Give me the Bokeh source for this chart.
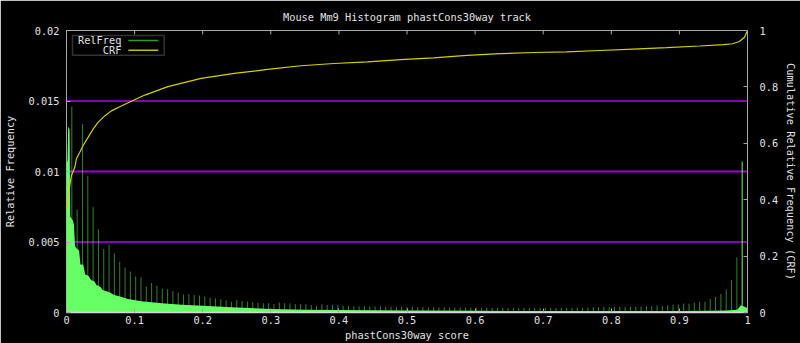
from bokeh.plotting import figure
from bokeh.models import Range1d, LinearAxis, FixedTicker, BoxAnnotation, Label, Span
from bokeh.embed import file_html
from bokeh.resources import INLINE

# ---------------- data ----------------
title_text = "Mouse Mm9 Histogram phastCons30way track"
score_ticks = [0, 0.1, 0.2, 0.3, 0.4, 0.5, 0.6, 0.7, 0.8, 0.9, 1]
score_labels = ["0", "0.1", "0.2", "0.3", "0.4", "0.5", "0.6", "0.7", "0.8", "0.9", "1"]
relfreq_ticks = [0, 0.005, 0.01, 0.015, 0.02]
relfreq_labels = ["0", "0.005", "0.01", "0.015", "0.02"]
crf_ticks = [0, 0.2, 0.4, 0.6, 0.8, 1]
crf_labels = ["0", "0.2", "0.4", "0.6", "0.8", "1"]
grid_levels = [0.005, 0.01, 0.015]

# histogram background (dense bins) envelope
base_score = [0.0, 0.0015, 0.0025, 0.0045, 0.0055, 0.0095, 0.011, 0.0125, 0.0155, 0.0185,
              0.0205, 0.0245, 0.0275, 0.032, 0.036, 0.041, 0.044, 0.05, 0.053, 0.063,
              0.07, 0.08, 0.09, 0.11, 0.14, 0.17, 0.2, 0.25, 0.3, 0.35,
              0.4, 0.5, 0.6, 0.7, 0.8, 0.9, 0.95, 0.97, 0.985, 0.99, 0.996, 1.0]
base_freq = [0.0105, 0.0108, 0.0132, 0.013, 0.0068, 0.0065, 0.0062, 0.0047, 0.0045, 0.0044,
             0.0034, 0.0034, 0.0027, 0.0026, 0.0023, 0.0022, 0.00195, 0.0018, 0.0016, 0.00143,
             0.00124, 0.00112, 0.00095, 0.0008, 0.00065, 0.00055, 0.00048, 0.00035, 0.00025, 0.0002,
             0.00017, 0.00014, 0.00012, 0.00011, 0.0001, 0.0001, 0.00012, 0.00015, 0.0002, 0.0005,
             0.0004, 0.0003]

# spike bins (every 1/128 of the score range)
spike_bin = list(range(1, 128))
spike_freq = [0.0146, 0.0073, 0.01335, 0.0097, 0.0075, 0.0059, 0.0045, 0.0048, 0.0042, 0.0036,
              0.0032, 0.0029, 0.00255, 0.0025, 0.00185, 0.0021, 0.0019, 0.0017, 0.00165, 0.00152,
              0.0014, 0.00128, 0.0013, 0.00125, 0.0012, 0.00112, 0.00105, 0.001, 0.00094, 0.00086,
              0.00075, 0.00089, 0.00082, 0.00077, 0.00073, 0.0007, 0.00066, 0.00066, 0.0006, 0.0007,
              0.00066, 0.00064, 0.0006, 0.0006, 0.0006, 0.00054, 0.00047, 0.00058, 0.00054, 0.00054,
              0.00053, 0.00048, 0.00048, 0.00043, 0.00044, 0.00043, 0.00043, 0.00042, 0.00042, 0.0004,
              0.00041, 0.0004, 0.00042, 0.00039, 0.0004, 0.00038, 0.00039, 0.00037, 0.00038, 0.00036,
              0.00037, 0.00036, 0.00035, 0.00036, 0.00035, 0.00034, 0.00035, 0.00034, 0.00035, 0.00033,
              0.00034, 0.00033, 0.00034, 0.00033, 0.00032, 0.00033, 0.00032, 0.00033, 0.00032, 0.00033,
              0.00032, 0.00033, 0.00034, 0.00033, 0.00034, 0.00035, 0.00034, 0.00036, 0.00037, 0.00038,
              0.00039, 0.0004, 0.0004, 0.00041, 0.0004, 0.00042, 0.00041, 0.00042, 0.00045, 0.00045,
              0.0005, 0.00046, 0.0005, 0.00056, 0.00057, 0.00063, 0.00063, 0.0007, 0.00075, 0.00076,
              0.00094, 0.0011, 0.00132, 0.00165, 0.0023, 0.0039, 0.0107]

crf_score = [0.0, 0.0025, 0.0048, 0.0073, 0.0122, 0.0146, 0.0195, 0.0244, 0.0317, 0.039,
             0.0464, 0.0561, 0.0659, 0.0805, 0.0952, 0.115, 0.1488, 0.1977, 0.2465, 0.2953,
             0.3441, 0.393, 0.4418, 0.4905, 0.539, 0.588, 0.637, 0.686, 0.734, 0.783,
             0.832, 0.881, 0.93, 0.965, 0.978, 0.988, 0.9956, 0.999, 1.0]
crf_value = [0.362, 0.404, 0.451, 0.486, 0.515, 0.545, 0.568, 0.592, 0.621, 0.65,
             0.674, 0.697, 0.715, 0.732, 0.749, 0.771, 0.801, 0.83, 0.848, 0.862,
             0.875, 0.883, 0.889, 0.897, 0.903, 0.912, 0.918, 0.922, 0.924, 0.929,
             0.934, 0.939, 0.945, 0.95, 0.953, 0.961, 0.976, 0.995, 1.0]

spike_score = [k / 128 for k in spike_bin]

# ---------------- styling ----------------
FONT = "DejaVu Sans Mono"
FS = "10.3px"
TXT = "#e2e2e2"
AX = "#a8a8a8"
GREEN = "#66ff66"
YELLOW = "#d2d200"
PURPLE = "#a000d0"

FRAME_L, FRAME_R, FRAME_T, FRAME_B = 65, 52, 28, 30
W, H = 800, 343
FW, FH = W - FRAME_L - FRAME_R, H - FRAME_T - FRAME_B
YMAX = relfreq_ticks[-1]

p = figure(width=W, height=H, output_backend="svg", toolbar_location=None,
           x_range=Range1d(0, 1), y_range=Range1d(0, YMAX),
           min_border_left=FRAME_L, min_border_right=FRAME_R,
           min_border_top=FRAME_T, min_border_bottom=FRAME_B,
           background_fill_color="black", border_fill_color="black",
           outline_line_color=AX, outline_line_width=1, title=title_text)
p.extra_y_ranges = {"crf": Range1d(0, 1)}

p.title.align = "center"
p.title.text_font = FONT
p.title.text_font_size = FS
p.title.text_font_style = "normal"
p.title.text_color = TXT
p.title.standoff = 16


def style_axis(ax, ticks, labels, label_standoff, title_standoff):
    ax.ticker = FixedTicker(ticks=ticks)
    ax.major_label_overrides = {t: l for t, l in zip(ticks, labels)}
    ax.axis_line_color = None
    ax.major_tick_in = 4
    ax.major_tick_out = 0
    ax.major_tick_line_color = AX
    ax.minor_tick_line_color = None
    ax.major_label_text_font = FONT
    ax.major_label_text_font_size = FS
    ax.major_label_text_color = TXT
    ax.major_label_standoff = label_standoff
    ax.axis_label_text_font = FONT
    ax.axis_label_text_font_size = FS
    ax.axis_label_text_font_style = "normal"
    ax.axis_label_text_color = TXT
    ax.axis_label_standoff = title_standoff


xa = p.xaxis[0]
xa.axis_label = "phastCons30way score"
style_axis(xa, score_ticks, score_labels, 3, 2)
xa.axis_line_color = "#d8d8d8"
xa.axis_line_width = 1.5

ya = p.yaxis[0]
ya.axis_label = "Relative Frequency"
style_axis(ya, relfreq_ticks, relfreq_labels, 7, 10)

ra = LinearAxis(y_range_name="crf", axis_label="Cumulative Relative Frequency (CRF)")
style_axis(ra, crf_ticks, crf_labels, 12, 4)
p.add_layout(ra, "right")

p.xgrid.grid_line_color = None
p.ygrid.grid_line_color = None


def fx(dx):
    return dx / FW


def fy(dy):
    return YMAX - dy / FH * YMAX


# purple horizontal reference lines
for lvl in grid_levels:
    p.add_layout(Span(location=lvl, dimension="width",
                      line_color=PURPLE if lvl == 0.01 else "#b000f0",
                      line_width=2 if lvl == 0.01 else 1.5, level="underlay"))

# mirrored x ticks along the top border (inward)
tick_len = 4 / FH * YMAX
p.segment(x0=score_ticks[1:-1], y0=YMAX, x1=score_ticks[1:-1], y1=YMAX - tick_len,
          line_color=AX, line_width=1)

# histogram
p.varea(x=base_score, y1=0, y2=base_freq, fill_color=GREEN, fill_alpha=1)
p.segment(x0=spike_score[:-1], y0=0, x1=spike_score[:-1], y1=spike_freq[:-1],
          line_color=GREEN, line_alpha=0.5, line_width=1)
p.segment(x0=spike_score[-1:], y0=0, x1=spike_score[-1:], y1=spike_freq[-1:],
          line_color=GREEN, line_alpha=1, line_width=1)

# CRF
p.line(x=crf_score, y=crf_value, y_range_name="crf", line_color=YELLOW, line_width=1.2)

# legend (gnuplot style: label left, sample line right)
box = BoxAnnotation(left=fx(6), right=fx(98), top=fy(5), bottom=fy(25),
                    fill_alpha=0, line_color=AX, line_width=1.5)
p.add_layout(box)
for i, (name, col) in enumerate([("RelFreq", "#2f9a2f"), ("CRF", "#c0c000")]):
    yy = fy(10 + 10 * i)
    p.segment(x0=[fx(62)], y0=[yy], x1=[fx(92)], y1=[yy], line_color=col, line_width=1.5)
    lab = Label(x=fx(55), y=yy, text=name, text_align="right", text_baseline="middle",
                text_font=FONT, text_font_size=FS, text_color=TXT)
    p.add_layout(lab)

open("out.html", "w").write(file_html(p, INLINE))
